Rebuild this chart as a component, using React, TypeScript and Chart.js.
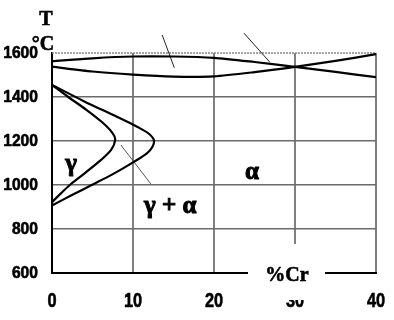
import React, { useEffect, useRef } from "react";
import { Chart, registerables } from "chart.js";

Chart.register(...registerables);

// x: % Cr, y: temperature °C
const upperX = [0, 5, 10, 15, 20, 25, 30, 35, 40];
const upperT = [1563, 1576, 1584, 1584, 1578, 1559, 1537, 1514, 1490];
const lowerX = [0, 5, 10, 15, 20, 25, 30, 35, 40];
const lowerT = [1538, 1516, 1502, 1493, 1494, 1513, 1537, 1564, 1595];

const outerLoopX = [0, 4, 8, 10.5, 12, 12.6, 11.9, 10, 7.4, 4.9, 2.4, 0];
const outerLoopT = [1455, 1380, 1310, 1265, 1232, 1198, 1150, 1103, 1047, 1000, 953, 907];
const innerLoopX = [0, 2.0, 4.2, 6.2, 7.5, 7.8, 7.3, 5.8, 3.3, 2.2, 1.1, 0];
const innerLoopT = [1455, 1400, 1343, 1285, 1235, 1205, 1160, 1106, 1032, 1000, 962, 922];

const pointer1X = [13.6, 15.1];
const pointer1T = [1682, 1533];
const pointer2X = [23.7, 26.9];
const pointer2T = [1690, 1558];
const pointer3X = [8.5, 12.2];
const pointer3T = [1182, 1005];

const topLineX = [0, 40];
const topLineT = [1600, 1600];

const xTicks = [0, 10, 20, 30, 40];
const yTicks = [600, 800, 1000, 1200, 1400, 1600];

const phaseLabels = ["γ", "α", "γ + α"];
const phaseLabelX = [2.35, 24.7, 14.6];
const phaseLabelT = [1095, 1055, 903];

const yUnitTitle = "T";
const yUnitSub = "°C";
const xTitle = "%Cr";

const pts = (xs: number[], ys: number[]) => xs.map((x, i) => ({ x, y: ys[i] }));

const TICK_FONT = '"Liberation Sans", Arial, sans-serif';
const SERIF = '"Liberation Serif", "Times New Roman", serif';

export default function App() {
  const ref = useRef<HTMLCanvasElement | null>(null);
  useEffect(() => {
    if (!ref.current) return;
    const curve = (xs: number[], ys: number[], tension = 0.3) => ({
      data: pts(xs, ys),
      showLine: true,
      borderColor: "#000",
      borderWidth: 2.2,
      pointRadius: 0,
      tension,
      fill: false,
    });
    const thin = (xs: number[], ys: number[], color: string) => ({
      data: pts(xs, ys),
      showLine: true,
      borderColor: color,
      borderWidth: 1,
      pointRadius: 0,
      tension: 0,
      clip: false as any,
    });
    const squeezed = (ctx: any, text: string, x: number, y: number, sx: number, align: string) => {
      ctx.save();
      ctx.translate(x, y);
      ctx.scale(sx, 1);
      ctx.textAlign = align;
      ctx.fillText(text, 0, 0);
      ctx.strokeText(text, 0, 0);
      ctx.restore();
    };
    const overlay = {
      id: "overlay",
      afterDraw(chart: any) {
        const ctx = chart.ctx;
        const xs = chart.scales.x;
        const ys = chart.scales.y;
        ctx.save();
        ctx.fillStyle = "#000";
        ctx.strokeStyle = "#000";
        ctx.lineWidth = 0.6;
        ctx.textBaseline = "middle";
        // tick labels
        ctx.font = `bold 17px ${TICK_FONT}`;
        yTicks.forEach((v) => squeezed(ctx, String(v), 38, ys.getPixelForValue(v), 0.92, "right"));
        ctx.font = `bold 21px ${TICK_FONT}`;
        xTicks.forEach((v) => squeezed(ctx, String(v), xs.getPixelForValue(v), 301, 0.78, "center"));
        // phase labels
        ctx.textAlign = "center";
        ctx.lineWidth = 1;
        ctx.font = `bold 25px ${SERIF}`;
        phaseLabels.forEach((t, i) => {
          const px = xs.getPixelForValue(phaseLabelX[i]);
          const py = ys.getPixelForValue(phaseLabelT[i]);
          ctx.fillText(t, px, py);
          ctx.strokeText(t, px, py);
        });
        // white patch behind the x title
        ctx.fillStyle = "#fff";
        ctx.fillRect(248, 244, 77, 56);
        ctx.fillStyle = "#000";
        ctx.lineWidth = 0.6;
        ctx.font = `bold 20px ${SERIF}`;
        [[xTitle, 287, 276], [yUnitTitle, 46, 20], [yUnitSub, 43, 45]].forEach(([t, x, y]: any) => {
          ctx.fillText(t, x, y);
          ctx.strokeText(t, x, y);
        });
        ctx.restore();
      },
    };
    const chart = new Chart(ref.current, {
      type: "scatter",
      data: {
        datasets: [
          curve(upperX, upperT, 0.25),
          curve(lowerX, lowerT, 0.25),
          curve(outerLoopX, outerLoopT),
          curve(innerLoopX, innerLoopT),
          thin(pointer1X, pointer1T, "#222"),
          thin(pointer2X, pointer2T, "#222"),
          thin(pointer3X, pointer3T, "#555"),
          {
            data: pts(topLineX, topLineT),
            showLine: true,
            borderColor: "#888",
            borderWidth: 1.5,
            borderDash: [2, 1],
            pointRadius: 0,
            clip: false as any,
          },
        ] as any,
      },
      options: {
        animation: false,
        responsive: true,
        maintainAspectRatio: false,
        layout: { padding: { left: 0, top: 53, right: 18, bottom: 0 } },
        plugins: { legend: { display: false }, tooltip: { enabled: false } },
        scales: {
          x: {
            type: "linear",
            min: 0,
            max: 40,
            afterFit: (s: any) => { s.height = 47; s.paddingLeft = 0; s.paddingRight = 0; },
            afterBuildTicks: (s: any) => { s.ticks = xTicks.map((v) => ({ value: v })); },
            grid: { color: "#808080", lineWidth: 2, drawTicks: false },
            border: { color: "#000", width: 2 },
            ticks: { display: false },
          },
          y: {
            type: "linear",
            min: 600,
            max: 1600,
            afterFit: (s: any) => { s.width = 52; s.paddingTop = 0; s.paddingBottom = 0; },
            afterBuildTicks: (s: any) => { s.ticks = yTicks.map((v) => ({ value: v })); },
            grid: {
              color: "#6a6a6a",
              lineWidth: (c: any) => (c.tick && c.tick.value === 1600 ? 0 : 1.5),
              drawTicks: false,
            },
            border: { color: "#000", width: 2 },
            ticks: { display: false },
          },
        },
      } as any,
      plugins: [overlay],
    });
    return () => chart.destroy();
  }, []);
  return (
    <div style={{ position: "fixed", left: 0, top: 0, width: 394, height: 320, background: "#fff" }}>
      <canvas ref={ref} />
    </div>
  );
}
